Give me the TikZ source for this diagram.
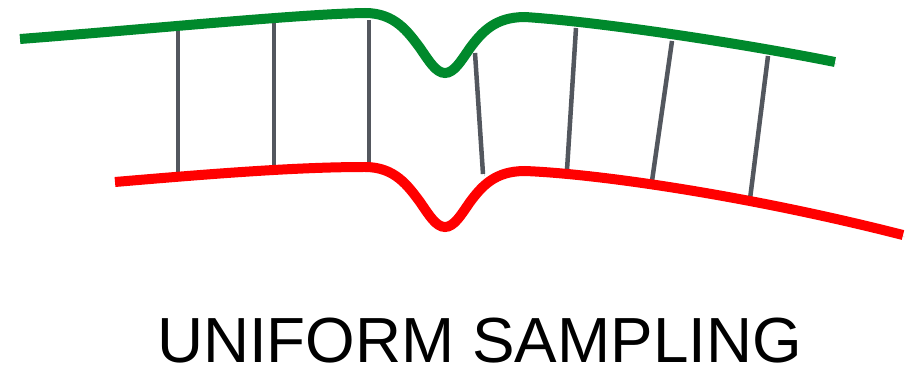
\documentclass[tikz,border=0pt]{standalone}
\usepackage{fontspec}
\setmainfont{Liberation Sans}
\usepackage{tikz}
\usetikzlibrary{positioning}
\definecolor{railgreen}{HTML}{00892C}
\definecolor{railred}{HTML}{FF0000}
\definecolor{runggray}{HTML}{53575E}
\definecolor{shadowgray}{HTML}{D4D6DA}

\tikzset{
    dropshadow/.style={preaction={draw=shadowgray, transform canvas={shift={(0.03cm,-0.04cm)}}}},
    rail/.style={line width=0.2cm, line cap=butt, dropshadow},
    rung/.style={line width=0.09cm, runggray, dropshadow},
}

\begin{document}
\begin{tikzpicture}[x=0.02cm, y=-0.02cm]
    \useasboundingbox (0,0) rectangle (921,368);

    % Rungs between the two rails
    \foreach \n/\tx/\ty/\bx/\by in {1/178/30/178/172, 2/274/22/274/165, 3/369/20/369/164,
                                    4/475/53/483/174, 5/576/28/567/170, 6/672/41/652/181, 7/768/56/750/199} {
        \coordinate (g\n) at (\tx,\ty);
        \coordinate (r\n) at (\bx,\by);
        \draw[rung] (g\n) -- (r\n);
    }

    % Top rail (green)
    \draw[rail, railgreen] (20,39) .. controls (150,29) and (300,14) .. (365,13)
        .. controls (395,13) and (408,32) .. (420,48)
        .. controls (429,61) and (436,73) .. (445,73)
        .. controls (454,73) and (461,61) .. (470,48)
        .. controls (482,32) and (495,17) .. (525,17)
        .. controls (600,22) and (740,43) .. (835,62);

    % Bottom rail (red)
    \draw[rail, railred] (115,182) .. controls (220,173) and (300,167) .. (365,167)
        .. controls (395,167) and (408,186) .. (420,202)
        .. controls (429,215) and (436,227) .. (445,227)
        .. controls (454,227) and (461,215) .. (470,202)
        .. controls (482,186) and (495,171) .. (525,171)
        .. controls (600,174) and (750,196) .. (903,235);

    % Caption
    \node[anchor=base, inner sep=0pt, font=\fontsize{36.3pt}{42pt}\selectfont] (caption) at (479.5,362) {UNIFORM SAMPLING};
\end{tikzpicture}
\end{document}
